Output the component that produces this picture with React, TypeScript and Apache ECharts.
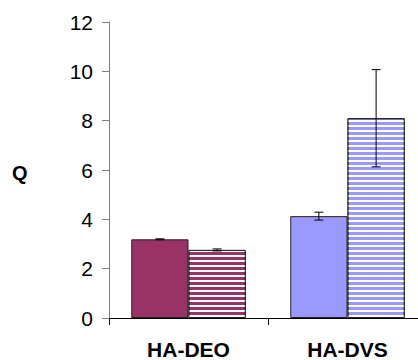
import React, { useEffect, useRef } from "react";
import * as echarts from "echarts";

const categories = ["HA-DEO", "HA-DVS"];
const solidValues = [3.19, 4.13];
const stripedValues = [2.76, 8.1];
const solidErrors = [0.02, 0.16];
const stripedErrors = [0.04, 1.97];
const solidColors = ["#993366", "#9999FF"];
const stripedColors = ["#993366", "#9999FF"];
const yMin = 0;
const yMax = 12;
const yInterval = 2;
const axisTitle = "Q";

const BAR_RATIO = 0.36;
const FONT = "Arial, 'Liberation Sans', Helvetica, sans-serif";

export default function App() {
  const ref = useRef<HTMLDivElement>(null);
  useEffect(() => {
    if (!ref.current) return;
    const chart = echarts.init(ref.current, undefined, { renderer: "svg" });
    const errData: number[][] = [];
    categories.forEach((_, i) => {
      errData.push([i, 0, solidValues[i] - solidErrors[i], solidValues[i] + solidErrors[i]]);
      errData.push([i, 1, stripedValues[i] - stripedErrors[i], stripedValues[i] + stripedErrors[i]]);
    });
    chart.setOption({
      animation: false,
      grid: { left: 109, top: 22, bottom: 41, right: 0 },
      graphic: [
        {
          type: "text",
          left: 12,
          top: 163,
          style: { text: axisTitle, font: `bold 20px ${FONT}`, fill: "#000" },
        },
      ],
      xAxis: {
        type: "category",
        data: categories,
        axisLine: { lineStyle: { color: "#000", width: 1 } },
        axisTick: { show: true, length: 7, lineStyle: { color: "#000" } },
        axisLabel: {
          color: "#000",
          fontFamily: FONT,
          fontWeight: "bold",
          fontSize: 21,
          margin: 21,
        },
      },
      yAxis: {
        type: "value",
        min: yMin,
        max: yMax,
        interval: yInterval,
        axisLine: { show: true, lineStyle: { color: "#808080", width: 1 } },
        axisTick: { show: true, length: 7, lineStyle: { color: "#808080" } },
        splitLine: { show: false },
        axisLabel: { color: "#000", fontFamily: FONT, fontSize: 21, margin: 16 },
      },
      series: [
        {
          type: "bar",
          barWidth: `${BAR_RATIO * 100}%`,
          barGap: "0%",
          data: solidValues.map((v, i) => ({
            value: v,
            itemStyle: { color: solidColors[i] },
          })),
          itemStyle: { borderColor: "#222", borderWidth: 1 },
        },
        {
          type: "bar",
          barWidth: `${BAR_RATIO * 100}%`,
          barGap: "0%",
          data: stripedValues.map((v, i) => ({
            value: v,
            itemStyle: { color: stripedColors[i] },
          })),
          itemStyle: {
            borderColor: "#222",
            borderWidth: 1,
            decal: {
              symbol: "rect",
              symbolSize: 1,
              color: "#ffffff",
              dashArrayX: [1, 0],
              dashArrayY: [2, 3],
              rotation: 0,
            },
          },
        },
        {
          type: "custom",
          data: errData,
          z: 10,
          renderItem: (params: any, api: any) => {
            const cat = api.value(0);
            const s = api.value(1);
            const lo = api.coord([cat, api.value(2)]);
            const hi = api.coord([cat, api.value(3)]);
            const bw = api.size([1, 0])[0] * BAR_RATIO;
            const x = lo[0] + (s - 0.5) * bw;
            const cap = 4.5;
            const st = { stroke: "#000", lineWidth: 1 };
            return {
              type: "group",
              children: [
                { type: "line", shape: { x1: x, y1: lo[1], x2: x, y2: hi[1] }, style: st },
                { type: "line", shape: { x1: x - cap, y1: lo[1], x2: x + cap, y2: lo[1] }, style: st },
                { type: "line", shape: { x1: x - cap, y1: hi[1], x2: x + cap, y2: hi[1] }, style: st },
              ],
            };
          },
        },
      ],
    });
    return () => chart.dispose();
  }, []);
  return (
    <div
      style={{
        position: "absolute",
        left: 0,
        top: 0,
        width: 418,
        height: 360,
        overflow: "hidden",
        background: "#fff",
      }}
    >
      <div ref={ref} style={{ width: 427, height: 360 }} />
    </div>
  );
}
